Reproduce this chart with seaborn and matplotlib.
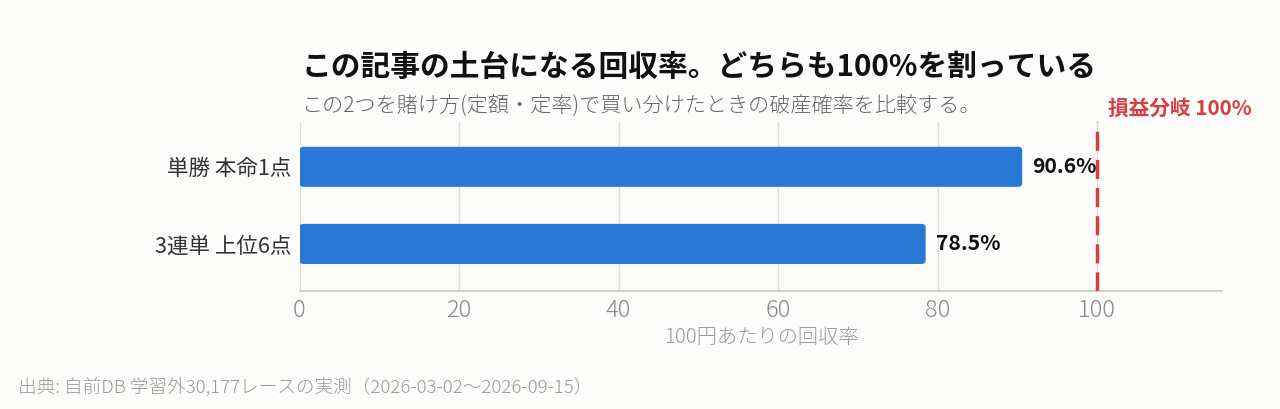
import pandas as pd
import matplotlib.pyplot as plt
import seaborn as sns
from matplotlib.patches import FancyBboxPatch

# chart values
categories = ["単勝 本命1点", "3連単 上位6点"]
returns = [90.6, 78.5]
breakeven = 100

bar_color = "#2A78D5"
red = "#D63E44"
bg = "#FCFCFA"

sns.set_theme(style="white")
plt.rcParams['font.family'] = ['Noto Sans CJK JP', 'DejaVu Sans']

data = pd.DataFrame({"bet": categories, "rate": returns})

fig = plt.figure(figsize=(12.8, 4.09), dpi=100, facecolor=bg)
ax = fig.add_axes([0.234, 0.2885, 0.721, 0.413])
ax.set_facecolor(bg)

sns.barplot(data=data, y="bet", x="rate", color=bar_color, width=0.52,
            saturation=1, ax=ax, zorder=3)

ax.set_xlim(0, 115.7)
ax.set_ylim(1.61, -0.58)

# rounded bar ends
for p in list(ax.patches):
    x0, y0 = p.get_x(), p.get_y()
    w, h = p.get_width(), p.get_height()
    rb = FancyBboxPatch((x0, y0), w, h, boxstyle="round,pad=0,rounding_size=0.5",
                        mutation_aspect=0.1035, facecolor=bar_color,
                        edgecolor="none", zorder=3)
    p.remove()
    ax.add_patch(rb)

ax.set_xticks([0, 20, 40, 60, 80, 100])
ax.grid(axis="x", color="#DDDDDA", linewidth=1, zorder=0)
ax.set_axisbelow(True)

for s in ["top", "right", "left"]:
    ax.spines[s].set_visible(False)
ax.spines["bottom"].set_color("#C8C8C5")
ax.spines["bottom"].set_linewidth(1.2)

ax.tick_params(axis="x", length=0, labelsize=17, labelcolor="#8A8A8A", pad=5)
ax.tick_params(axis="y", length=0, labelsize=15.5, labelcolor="#333333", pad=6)
for lab in ax.get_xticklabels():
    lab.set_fontweight("light")

ax.set_ylabel("")
ax.set_xlabel("100円あたりの回収率", fontsize=14.6, color="#999999", labelpad=3,
              fontweight="light")

# value labels
for i, v in enumerate(returns):
    ax.text(v + 1.3, i, f"{v}%", va="center", ha="left", fontsize=15.2,
            fontweight="bold", color="#111111", zorder=5)

# breakeven line
ax.axvline(breakeven, color=red, linestyle=(0, (5.5, 2.6)), linewidth=2.5, zorder=4)
ax.text(breakeven + 1.3, -0.62, "損益分岐 100%", color=red, fontsize=14.9,
        fontweight="bold", ha="left", va="bottom")

fig.text(0.2355, 0.815, "この記事の土台になる回収率。どちらも100%を割っている",
         fontsize=21.4, fontweight="bold", color="#111111", ha="left", va="baseline")
fig.text(0.2355, 0.727, "この2つを賭け方(定額・定率)で買い分けたときの破産確率を比較する。",
         fontsize=15.2, color="#666666", ha="left", va="baseline", fontweight="light")
fig.text(0.014, 0.04, "出典: 自前DB 学習外30,177レースの実測（2026-03-02〜2026-09-15）",
         fontsize=13.4, color="#9A9A9A", ha="left", va="baseline", fontweight="light")

fig.savefig("out.png", dpi=100, facecolor=bg)
